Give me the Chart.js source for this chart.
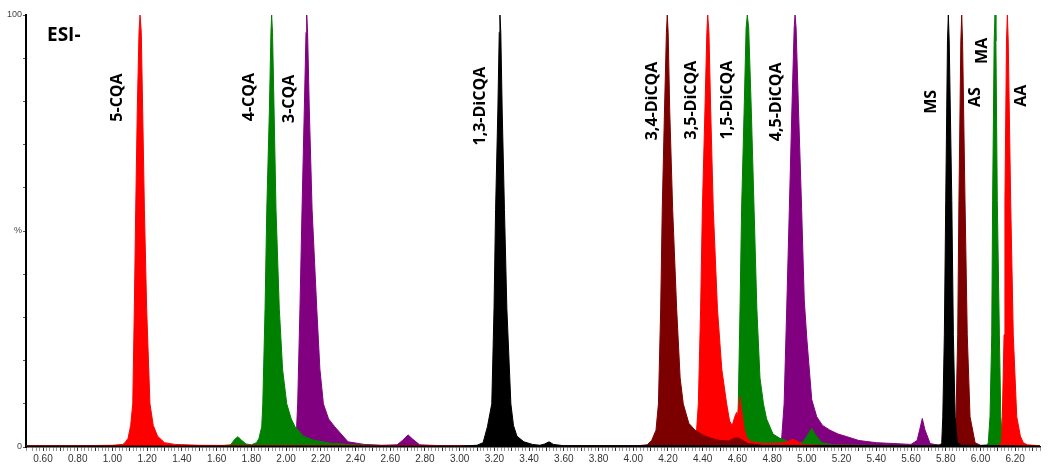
<!DOCTYPE html>
<html>
<head>
<meta charset="utf-8">
<title>ESI- chromatogram</title>
<script src="https://cdn.jsdelivr.net/npm/chart.js@4.4.1/dist/chart.umd.min.js"></script>
<style>
  html, body { margin: 0; padding: 0; background: #fff; overflow: hidden; }
  canvas { display: block; }
</style>
</head>
<body>
<canvas id="chromChart" width="1050" height="471"></canvas>
<script>
// Retention time (min) / relative intensity (%) pairs
const purpleTrace = [
    [0.50, 0.2], [2.00, 0.2], [2.05, 0.6], [2.061, 4.7], [2.067, 10], [2.080, 32], [2.092, 55],
    [2.105, 78], [2.115, 96], [2.119, 100], [2.124, 96], [2.134, 78], [2.150, 55], [2.177, 32],
    [2.195, 18], [2.215, 10], [2.245, 6.5], [2.28, 4.7], [2.357, 1.2], [2.45, 0.6], [2.55, 0.4],
    [2.64, 0.5], [2.67, 1.5], [2.703, 2.8], [2.73, 1.8], [2.77, 0.5], [2.90, 0.3], [4.80, 0.3],
    [4.85, 0.6], [4.855, 2], [4.869, 10], [4.884, 32], [4.899, 55], [4.915, 80], [4.927, 97],
    [4.932, 100], [4.938, 97], [4.952, 78], [4.970, 55], [4.985, 34], [5.00, 25], [5.028, 11],
    [5.057, 7], [5.09, 5], [5.133, 3.9], [5.18, 3], [5.23, 2.4], [5.30, 1.5], [5.40, 1.0],
    [5.50, 0.8], [5.60, 0.6], [5.635, 1.5], [5.65, 4], [5.665, 6.6], [5.68, 4], [5.71, 0.8],
    [5.76, 0.4], [6.343, 0.2]
];
const greenTrace = [
    [0.50, 0.2], [1.60, 0.2], [1.68, 0.5], [1.705, 1.8], [1.723, 2.4], [1.745, 1.5], [1.77, 0.7],
    [1.80, 0.5], [1.83, 1], [1.844, 2], [1.86, 4.7], [1.866, 10], [1.879, 32], [1.889, 55],
    [1.904, 78], [1.913, 96], [1.917, 100], [1.922, 96], [1.931, 78], [1.942, 55], [1.961, 32],
    [1.98, 18], [2.004, 10], [2.03, 6.5], [2.052, 4.7], [2.10, 2.5], [2.155, 1.6], [2.25, 0.9],
    [2.40, 0.5], [2.60, 0.3], [4.50, 0.3], [4.595, 0.6], [4.600, 3], [4.605, 10], [4.615, 32],
    [4.624, 55], [4.640, 80], [4.650, 97], [4.657, 100], [4.665, 97], [4.680, 78], [4.696, 55],
    [4.712, 32], [4.73, 16], [4.75, 10], [4.768, 6.5], [4.805, 3], [4.845, 2], [4.90, 1.2],
    [4.95, 0.9], [4.98, 1.2], [5.00, 2.5], [5.028, 4.3], [5.05, 2.8], [5.085, 1], [5.15, 0.5],
    [5.50, 0.3], [6.00, 0.3], [6.04, 0.5], [6.045, 1], [6.055, 7], [6.065, 26], [6.070, 57],
    [6.079, 94], [6.084, 100], [6.089, 94], [6.097, 57], [6.109, 26], [6.117, 7], [6.128, 1],
    [6.15, 0.4], [6.343, 0.2]
];
const redTrace = [
    [0.50, 0.3], [0.80, 0.3], [1.00, 0.4], [1.06, 0.6], [1.072, 1], [1.09, 2], [1.105, 5],
    [1.117, 10], [1.126, 32], [1.134, 55], [1.143, 78], [1.153, 96], [1.159, 100], [1.166, 96],
    [1.174, 78], [1.184, 55], [1.197, 32], [1.216, 10], [1.235, 5], [1.26, 2.5], [1.30, 1],
    [1.36, 0.6], [1.50, 0.4], [2.00, 0.3], [3.00, 0.3], [4.00, 0.3], [4.30, 0.4], [4.355, 1],
    [4.365, 4], [4.375, 10], [4.388, 32], [4.398, 55], [4.413, 78], [4.424, 96], [4.429, 100],
    [4.436, 96], [4.446, 78], [4.461, 55], [4.485, 32], [4.51, 18], [4.538, 10], [4.555, 6],
    [4.57, 5], [4.585, 7], [4.595, 8], [4.600, 7], [4.607, 9], [4.615, 11.6], [4.622, 9],
    [4.63, 7], [4.64, 4], [4.655, 2], [4.68, 1.2], [4.75, 0.8], [4.85, 0.9], [4.89, 1.3],
    [4.92, 1.8], [4.95, 1.2], [4.98, 0.6], [5.10, 0.4], [5.60, 0.3], [6.10, 0.3], [6.122, 1],
    [6.126, 7], [6.136, 26], [6.141, 57], [6.150, 94], [6.155, 100], [6.160, 94], [6.174, 57],
    [6.189, 26], [6.209, 7], [6.23, 2.5], [6.247, 1], [6.27, 0.5], [6.343, 0.3]
];
const darkRedTrace = [
    [0.50, 0.2], [4.00, 0.2], [4.08, 0.5], [4.106, 1.5], [4.131, 3.9], [4.145, 10], [4.158, 32],
    [4.167, 55], [4.180, 78], [4.191, 96], [4.196, 100], [4.201, 96], [4.210, 78], [4.227, 55],
    [4.250, 32], [4.27, 16], [4.288, 10], [4.32, 5.5], [4.356, 3.9], [4.40, 2.8], [4.45, 2],
    [4.50, 1.5], [4.55, 1.4], [4.58, 2], [4.60, 2.2], [4.62, 1.8], [4.66, 0.8], [4.75, 0.4],
    [5.80, 0.3], [5.85, 0.6], [5.853, 1], [5.859, 7], [5.869, 26], [5.876, 57], [5.887, 94],
    [5.892, 100], [5.897, 94], [5.911, 57], [5.924, 26], [5.94, 7], [5.969, 1], [6.00, 0.4],
    [6.343, 0.2]
];
const blackTrace = [
    [0.50, 0.2], [3.00, 0.2], [3.10, 0.4], [3.135, 1], [3.16, 4.7], [3.185, 10], [3.198, 32],
    [3.207, 55], [3.220, 78], [3.228, 96], [3.232, 100], [3.237, 96], [3.245, 78], [3.258, 55],
    [3.272, 32], [3.295, 10], [3.31, 5], [3.33, 2.5], [3.37, 1.2], [3.42, 0.6], [3.463, 0.4],
    [3.49, 0.7], [3.515, 1.2], [3.54, 0.6], [3.60, 0.3], [5.70, 0.3], [5.77, 0.5], [5.777, 1],
    [5.783, 7], [5.792, 26], [5.800, 57], [5.810, 94], [5.815, 100], [5.820, 94], [5.835, 57],
    [5.844, 26], [5.854, 7], [5.867, 1], [5.89, 0.4], [6.343, 0.2]
];

// Peak annotations: text, retention time and height of the label centre
const peakNames = ['5-CQA', '4-CQA', '3-CQA', '1,3-DiCQA', '3,4-DiCQA', '3,5-DiCQA',
                   '1,5-DiCQA', '4,5-DiCQA', 'MS', 'AS', 'MA', 'AA'];
const peakLabelRT = [1.029, 1.787, 2.017, 3.117, 4.108, 4.333, 4.543, 4.822, 5.715, 5.969, 6.012, 6.234];
const peakLabelPct = [80.9, 81.0, 80.6, 78.9, 80.1, 80.3, 80.3, 79.9, 79.9, 81.0, 91.7, 81.3];

const xTickLabels = ['0.60', '0.80', '1.00', '1.20', '1.40', '1.60', '1.80', '2.00', '2.20', '2.40',
                     '2.60', '2.80', '3.00', '3.20', '3.40', '3.60', '3.80', '4.00', '4.20', '4.40',
                     '4.60', '4.80', '5.00', '5.20', '5.40', '5.60', '5.80', '6.00', '6.20'];
const yTickValues = [0, 50, 100];
const yTickLabels = ['0', '%', '100'];

const toPoints = trace => trace.map(p => ({ x: p[0], y: p[1] }));

function traceDataset(trace, color, order) {
    return {
        data: toPoints(trace),
        borderColor: color,
        backgroundColor: color,
        borderWidth: 1,
        pointRadius: 0,
        fill: 'origin',
        tension: 0,
        order: order
    };
}

// peak names + "ESI-" drawn on top of the traces
const annotations = {
    id: 'annotations',
    afterDatasetsDraw(chart) {
        const ctx = chart.ctx;
        const xs = chart.scales.x, ys = chart.scales.y;
        ctx.save();
        ctx.fillStyle = '#000';
        ctx.font = "bold 16px 'Open Sans', sans-serif";
        ctx.textAlign = 'center';
        ctx.textBaseline = 'middle';
        peakNames.forEach((name, i) => {
            ctx.save();
            ctx.translate(xs.getPixelForValue(peakLabelRT[i]), ys.getPixelForValue(peakLabelPct[i]));
            ctx.rotate(-Math.PI / 2);
            ctx.fillText(name, 0, 0);
            ctx.restore();
        });
        ctx.font = "bold 19px 'Open Sans', sans-serif";
        ctx.textAlign = 'left';
        ctx.textBaseline = 'alphabetic';
        ctx.fillText('ESI-', chart.chartArea.left + 21, chart.chartArea.top + 26);
        ctx.restore();
    }
};

function initChart() {
    const ctx = document.getElementById('chromChart').getContext('2d');
    new Chart(ctx, {
        type: 'line',
        data: {
            datasets: [
                traceDataset(blackTrace, '#000000', 1),
                traceDataset(darkRedTrace, '#7d0000', 2),
                traceDataset(redTrace, '#ff0000', 3),
                traceDataset(greenTrace, '#008000', 4),
                traceDataset(purpleTrace, '#800080', 5)
            ]
        },
        options: {
            responsive: false,
            animation: false,
            layout: { padding: { top: 15, right: 10, left: 0, bottom: 0 } },
            plugins: {
                legend: { display: false },
                tooltip: { enabled: false }
            },
            scales: {
                x: {
                    type: 'linear',
                    min: 0.502,
                    max: 6.343,
                    afterFit: s => { s.height = 24; },
                    border: { display: true, color: '#000', width: 1.5 },
                    grid: {
                        drawOnChartArea: false,
                        drawTicks: true,
                        tickLength: 4,
                        tickWidth: 1,
                        tickColor: c => {
                            const v = c.tick ? c.tick.value : 0;
                            return Math.abs(v * 10 - Math.round(v * 10)) < 1e-6 ? '#333' : '#999';
                        }
                    },
                    ticks: {
                        stepSize: 0.02,
                        autoSkip: false,
                        maxRotation: 0,
                        padding: 2,
                        color: '#333',
                        font: { family: "'Liberation Sans', Arial, sans-serif", size: 10 },
                        callback: v => {
                            const s = Number(v).toFixed(2);
                            return xTickLabels.includes(s) ? s : '';
                        }
                    }
                },
                y: {
                    min: 0,
                    max: 100,
                    afterFit: s => { s.width = 26; },
                    border: { display: true, color: '#000', width: 2 },
                    grid: {
                        drawOnChartArea: false,
                        drawTicks: true,
                        tickLength: 3,
                        tickColor: '#555'
                    },
                    ticks: {
                        stepSize: 10,
                        autoSkip: false,
                        padding: 1,
                        color: '#444',
                        font: { family: "'Liberation Sans', Arial, sans-serif", size: 9 },
                        callback: v => {
                            const i = yTickValues.indexOf(Math.round(v));
                            return i >= 0 ? yTickLabels[i] : '';
                        }
                    }
                }
            }
        },
        plugins: [annotations]
    });
}

document.addEventListener('DOMContentLoaded', initChart);
</script>
</body>
</html>
